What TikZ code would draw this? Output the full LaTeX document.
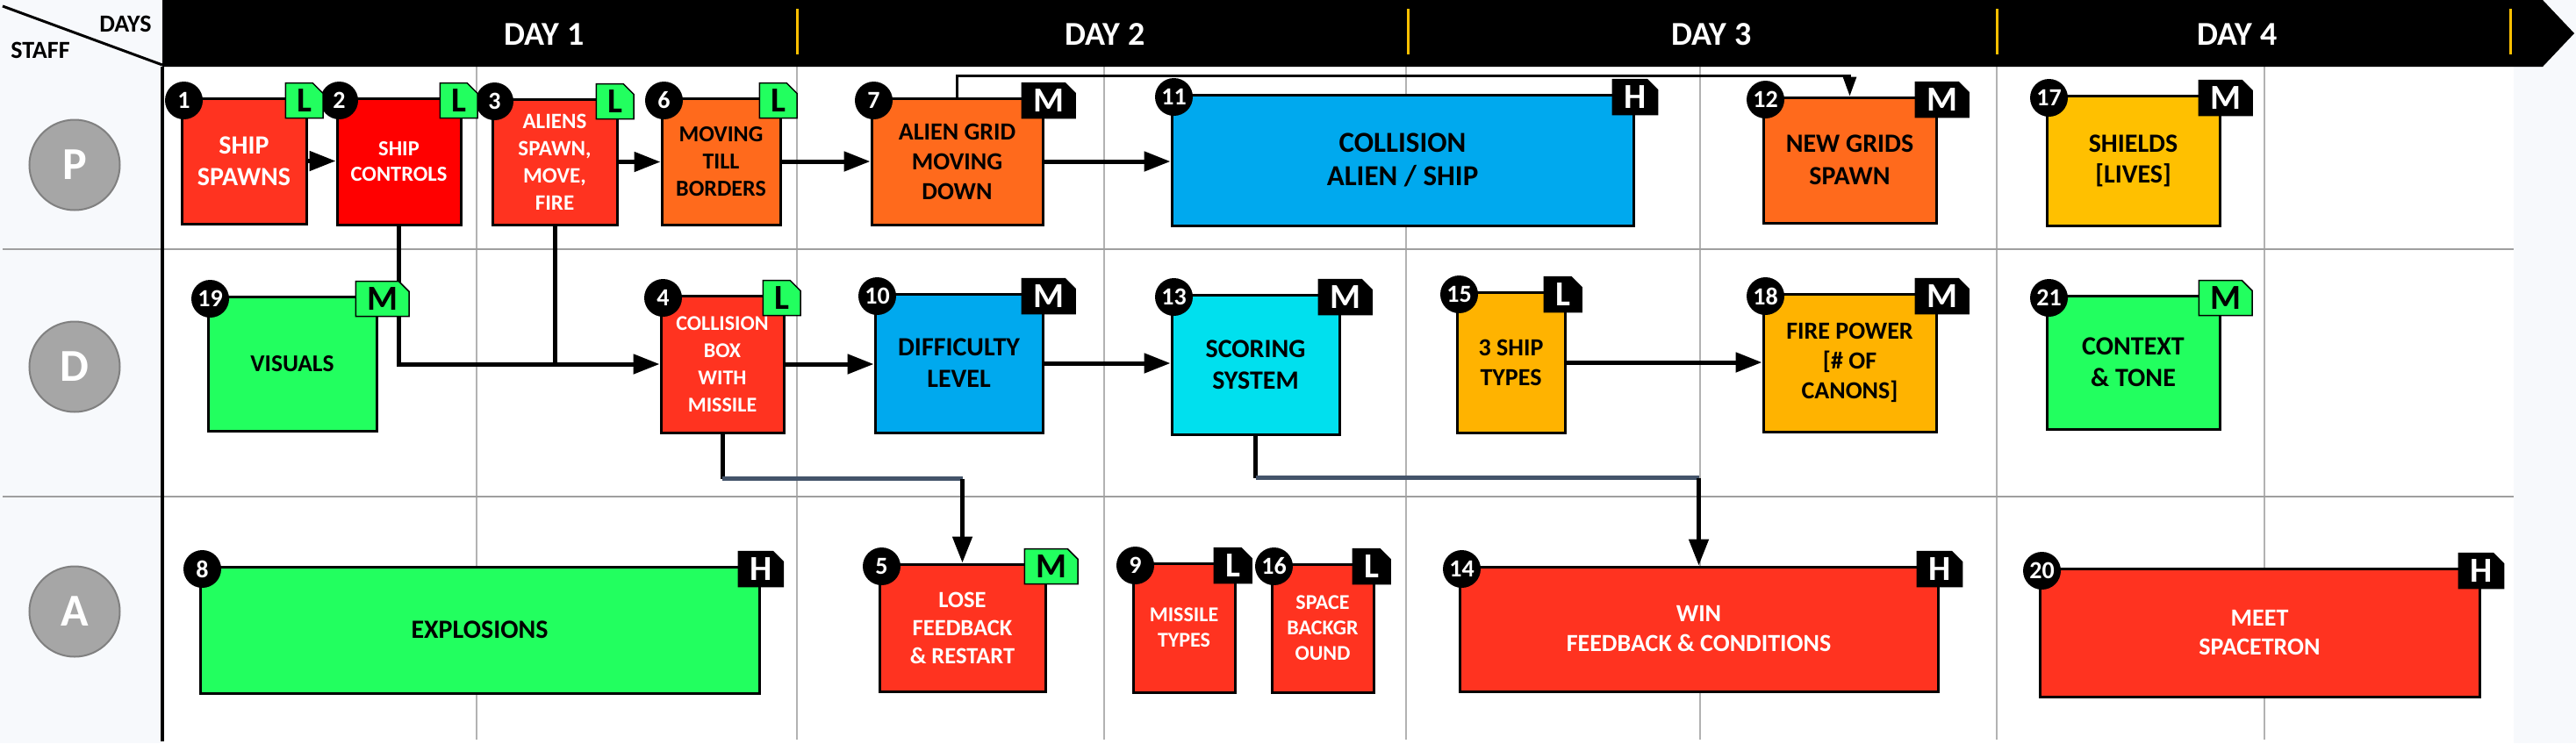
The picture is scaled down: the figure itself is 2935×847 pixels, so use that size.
\documentclass[tikz,border=0pt]{standalone}
\usepackage{fontspec}
\setmainfont{Carlito}
\usetikzlibrary{arrows.meta,shapes.misc}
\definecolor{taskred}{HTML}{FF3320}
\definecolor{taskpure}{HTML}{FF0000}
\definecolor{taskorange}{HTML}{FF6A1C}
\definecolor{taskblue}{HTML}{00A9EE}
\definecolor{taskcyan}{HTML}{00E0EE}
\definecolor{taskgreen}{HTML}{22FF5F}
\definecolor{taskamber}{HTML}{FFB300}
\definecolor{taskgold}{HTML}{FFC000}
\definecolor{slate}{HTML}{44546A}
\definecolor{panebg}{HTML}{F7F9FC}
\definecolor{lanegray}{HTML}{A6A6A6}
\definecolor{laneedge}{HTML}{808080}

\begin{document}
\begin{tikzpicture}[
    x=1pt, y=-1pt,
    >={Triangle[length=30pt,width=22pt]},
    task/.style={rectangle, draw, line width=3pt, inner sep=0pt, align=center, text=black},
    wt/.style={text=white},
    fs/.style 2 args={font=\bfseries\fontsize{#1}{#2}\selectfont},
    num/.style={circle, fill=black, text=white, minimum size=43pt, inner sep=0pt,
        font=\bfseries\fontsize{28}{28}\selectfont},
    tagbox/.style={chamfered rectangle, chamfered rectangle corners=north east,
        chamfered rectangle xsep=6pt, chamfered rectangle ysep=6pt,
        draw, line width=1.5pt, anchor=west, minimum width=40pt, minimum height=40pt,
        inner xsep=7pt, inner ysep=0pt, font=\bfseries\fontsize{40}{40}\selectfont},
    tagG/.style={tagbox, fill=taskgreen, text=black},
    tagK/.style={tagbox, fill=black, text=white},
    lane/.style={circle, minimum size=103pt, inner sep=0pt, fill=lanegray, draw=laneedge,
        line width=2pt, text=white, font=\bfseries\fontsize{52}{52}\selectfont},
    day/.style={text=white, font=\bfseries\fontsize{38}{38}\selectfont},
    corner/.style={font=\bfseries\fontsize{28}{28}\selectfont},
    link/.style={line width=5pt},
    thinlink/.style={line width=3pt, -{Triangle[length=22pt,width=15pt]}}
]
    \useasboundingbox (0,0) rectangle (2935,847);

    % Background and grid
    \fill[panebg] (0,0) rectangle (2935,847);
    \fill[white] (185,76) rectangle (2864,847);
    \foreach \gx in {543,908,1258,1602,1937,2275,2580}
        \draw[line width=1.5pt, gray!60] (\gx,76) -- (\gx,843);
    \foreach \gy in {284,566}
        \draw[line width=2.5pt, gray!75] (3,\gy) -- (2864,\gy);
    \draw[line width=4pt] (185,76) -- (185,845);

    % Header
    \fill[black] (185,0) -- (2897,0) -- (2933,38) -- (2897,76) -- (185,76) -- cycle;
    \foreach \sx in {908,1604,2275,2860}
        \draw[line width=3pt, taskgold] (\sx,10) -- (\sx,62);
    \node[day] (d1) at (620,39) {DAY 1};
    \node[day] (d2) at (1259,39) {DAY 2};
    \node[day] (d3) at (1950,39) {DAY 3};
    \node[day] (d4) at (2549,39) {DAY 4};
    \draw[line width=3pt] (3,7) -- (185,74);
    \node[corner] (hdays) at (143,27) {DAYS};
    \node[corner] (hstaff) at (46,57) {STAFF};

    % Lanes
    \node[lane] (lP) at (85,188) {P};
    \node[lane] (lD) at (85,418) {D};
    \node[lane] (lA) at (85,697) {A};

    % Row P
    \node[task, wt, fs={30}{36}, fill=taskred, minimum width=142pt, minimum height=143pt] (b1) at (278,183.5) {SHIP\\SPAWNS};
    \node[task, wt, fs={24.5}{29}, fill=taskpure, minimum width=141pt, minimum height=144pt] (b2) at (454.5,184) {SHIP\\CONTROLS};
    \node[task, wt, fs={25}{31}, fill=taskred, minimum width=142pt, minimum height=143pt] (b3) at (632,184.5) {ALIENS\\SPAWN,\\MOVE,\\FIRE};
    \node[task, fs={26}{31}, fill=taskorange, minimum width=135pt, minimum height=144pt] (b6) at (821.5,184) {MOVING\\TILL\\BORDERS};
    \node[task, fs={28}{34}, fill=taskorange, minimum width=195pt, minimum height=144pt] (b7) at (1090.5,184) {ALIEN GRID\\MOVING\\DOWN};
    \node[task, fs={33}{38}, fill=taskblue, minimum width=526pt, minimum height=149pt] (b11) at (1598,182.5) {COLLISION\\ALIEN / SHIP};
    \node[task, fs={30}{37}, fill=taskorange, minimum width=197pt, minimum height=143pt] (b12) at (2107.5,182.5) {NEW GRIDS\\SPAWN};
    \node[task, fs={30}{35}, fill=taskgold, minimum width=197pt, minimum height=148pt] (b17) at (2430.5,183) {SHIELDS\\{[LIVES]}};

    % Row D
    \node[task, fs={27.5}{33}, fill=taskgreen, minimum width=192pt, minimum height=153pt] (b19) at (333,414.5) {VISUALS};
    \node[task, wt, fs={24}{31}, fill=taskred, minimum width=140pt, minimum height=156pt] (b4) at (823,415) {COLLISION\\BOX\\WITH\\MISSILE};
    \node[task, fs={30}{36}, fill=taskblue, minimum width=191pt, minimum height=158pt] (b10) at (1092.5,414) {DIFFICULTY\\LEVEL};
    \node[task, fs={30}{36}, fill=taskcyan, minimum width=191pt, minimum height=159pt] (b13) at (1430.5,415.5) {SCORING\\SYSTEM};
    \node[task, fs={28}{34}, fill=taskamber, minimum width=123pt, minimum height=160pt] (b15) at (1721.5,413) {3 SHIP\\TYPES};
    \node[task, fs={28}{34}, fill=taskamber, minimum width=197pt, minimum height=157pt] (b18) at (2107.5,413.5) {FIRE POWER\\{[\# OF}\\CANONS]};
    \node[task, fs={30}{36}, fill=taskgreen, minimum width=197pt, minimum height=152pt] (b21) at (2430.5,413) {CONTEXT\\\& TONE};

    % Row A
    \node[task, fs={30}{36}, fill=taskgreen, minimum width=637pt, minimum height=144pt] (b8) at (546.5,718) {EXPLOSIONS};
    \node[task, wt, fs={26.5}{32}, fill=taskred, minimum width=189pt, minimum height=145pt] (b5) at (1096.5,715.5) {LOSE\\FEEDBACK\\\& RESTART};
    \node[task, wt, fs={24}{29}, fill=taskred, minimum width=116pt, minimum height=147pt] (b9) at (1349,715.5) {MISSILE\\TYPES};
    \node[task, wt, fs={24}{29}, fill=taskred, minimum width=116pt, minimum height=146pt] (b16) at (1507,716) {SPACE\\BACKGR\\OUND};
    \node[task, wt, fs={28}{34}, fill=taskred, minimum width=545pt, minimum height=142pt] (b14) at (1935.5,717) {WIN\\FEEDBACK \& CONDITIONS};
    \node[task, wt, fs={28}{33}, fill=taskred, minimum width=501pt, minimum height=146pt] (b20) at (2574.5,721) {MEET\\SPACETRON};

    % Edges
    \draw[link, ->] (b1.east) -- (b1.east -| b2.west);
    \draw[link, ->] (b3.east) -- (b3.east -| b6.west);
    \draw[link, ->] (b6.east) -- (b6.east -| b7.west);
    \draw[link, ->] (b7.east) -- (b7.east -| b11.west);
    \draw[thinlink] (b7.north) -- ++(0,-24) -| (b12.north);
    \draw[link, ->] (b2.south) |- (b4.west);
    \draw[link] (b3.south) -- (b3.south |- b4.west);
    \draw[link, ->] (b4.east) -- (b4.east -| b10.west);
    \draw[link, ->] (b10.east) -- (b10.east -| b13.west);
    \draw[link, ->] (b15.east) -- (b15.east -| b18.west);
    \path (b4.south) ++(0,51) coordinate (k4);
    \draw[link] (b4.south) -- (k4);
    \draw[link, slate] (k4) -- (k4 -| b5.north);
    \draw[link, ->] (k4 -| b5.north) -- (b5.north);
    \path (b13.south) ++(0,48) coordinate (k13);
    \draw[link] (b13.south) -- (k13);
    \draw[link, slate] (k13) -- (k13 -| b14.north);
    \draw[link, ->] (k13 -| b14.north) -- (b14.north);

    % Numbers
    \foreach \b/\n in {b1/1,b2/2,b3/3,b6/6,b7/7,b11/11,b12/12,b17/17,
                       b19/19,b4/4,b10/10,b13/13,b15/15,b18/18,b21/21,
                       b8/8,b5/5,b9/9,b16/16,b14/14,b20/20}
        \node[num] (n\n) at ([xshift=4pt,yshift=-4pt]\b.north west) {\n};

    % Effort tags
    \foreach \b/\s/\l in {b1/tagG/L,b2/tagG/L,b3/tagG/L,b6/tagG/L,b7/tagK/M,b11/tagK/H,
                          b12/tagK/M,b17/tagK/M,b19/tagG/M,b4/tagG/L,b10/tagK/M,b13/tagK/M,
                          b15/tagK/L,b18/tagK/M,b21/tagG/M,b8/tagK/H,b5/tagG/M,b9/tagK/L,
                          b16/tagK/L,b14/tagK/H,b20/tagK/H}
        \node[\s] (t\b) at ([xshift=-26pt,yshift=-4pt]\b.north east) {\l};
\end{tikzpicture}
\end{document}
